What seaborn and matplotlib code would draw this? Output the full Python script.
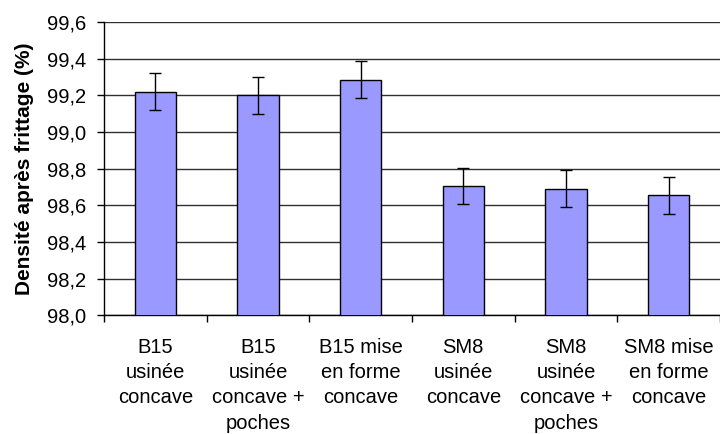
import matplotlib
matplotlib.use("Agg")
import matplotlib.pyplot as plt
import seaborn as sns
import pandas as pd
import numpy as np
from matplotlib.ticker import FixedLocator, FuncFormatter

categories = ["B15\nusinée\nconcave", "B15\nusinée\nconcave +\npoches", "B15 mise\nen forme\nconcave",
              "SM8\nusinée\nconcave", "SM8\nusinée\nconcave +\npoches", "SM8 mise\nen forme\nconcave"]
values = [99.22, 99.20, 99.285, 98.705, 98.69, 98.655]
errors = [0.10, 0.10, 0.10, 0.10, 0.10, 0.10]
yticks = [98.0, 98.2, 98.4, 98.6, 98.8, 99.0, 99.2, 99.4, 99.6]

sns.set_theme(style="white")
plt.rcParams['font.family'] = ['Liberation Sans', 'DejaVu Sans']

df = pd.DataFrame({"cat": categories, "val": values, "err": errors})

fig = plt.figure(figsize=(7.2, 4.34), dpi=100)
ax = fig.add_axes([0.1444, 0.2735, 0.8556, 0.6758])

sns.barplot(data=df, x="cat", y="val", color="#9999FF", width=0.4,
            edgecolor="black", linewidth=1.0, saturation=1, ax=ax, zorder=3)
ax.errorbar(np.arange(len(values)), df["val"], yerr=df["err"], fmt="none",
            ecolor="black", elinewidth=1.0, capsize=4, capthick=1.0, zorder=4)

ax.set_ylim(98.0, 99.6)
ax.set_xlim(-0.5, len(values) - 0.5)
ax.set_yticks(yticks)
ax.yaxis.set_major_formatter(FuncFormatter(lambda v, p: f"{v:.1f}".replace(".", ",")))
ax.grid(axis="y", color="#303030", linewidth=1.0, zorder=0)
ax.set_axisbelow(True)

ax.xaxis.set_minor_locator(FixedLocator(np.arange(-0.5, len(values), 1.0)))
ax.tick_params(axis="x", which="major", length=0, pad=16, labelsize=14.5, colors="black")
ax.tick_params(axis="x", which="minor", length=5, width=1, color="black", bottom=True)
ax.tick_params(axis="y", which="major", length=5, width=1, color="black", left=True,
               pad=8, labelsize=14.5, labelcolor="black")
for lab in ax.get_xticklabels():
    lab.set_linespacing(1.43)
    lab.set_verticalalignment("top")

for s in ["top", "right"]:
    ax.spines[s].set_visible(False)
for s in ["left", "bottom"]:
    ax.spines[s].set_color("black")
    ax.spines[s].set_linewidth(1.0)

ax.set_xlabel("")
ax.set_ylabel("Densité après frittage (%)", fontsize=15, fontweight="bold", color="black", labelpad=9)

fig.savefig("out.png", dpi=100)
